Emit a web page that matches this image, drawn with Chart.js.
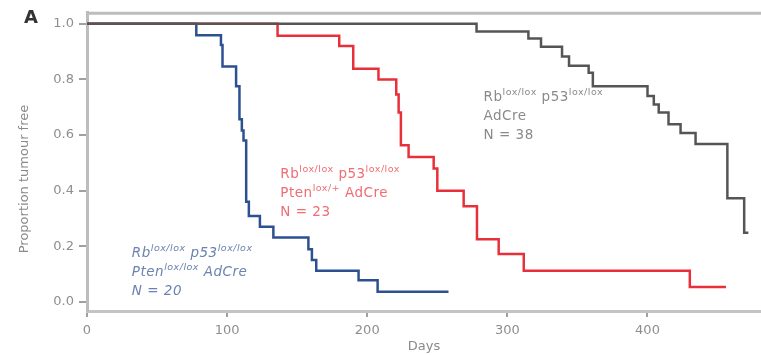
<!DOCTYPE html>
<html><head><meta charset="utf-8">
<script src="https://cdn.jsdelivr.net/npm/chart.js@4.4.1/dist/chart.umd.min.js"></script>
<style>html,body{margin:0;padding:0;background:#fff}#wrap{width:761px;height:355px;position:relative}</style>
</head><body><div id="wrap"><canvas id="c" width="761" height="355"></canvas></div>
<script>
// ---- data ----
const xTicks = [0, 100, 200, 300, 400];
const yTicks = [0.0, 0.2, 0.4, 0.6, 0.8, 1.0];

const grayDays = [0, 278, 315, 324, 339, 344, 358, 361, 400, 404.5, 408, 415, 423.6, 434.3, 457, 469, 472];
const graySurv = [1.0, 0.972, 0.947, 0.917, 0.882, 0.849, 0.824, 0.775, 0.740, 0.710, 0.681, 0.639, 0.607, 0.568, 0.373, 0.249, 0.249];

const redDays = [0, 136, 180, 190, 208, 220.7, 222.4, 224, 229.5, 247.4, 250, 268.8, 278.3, 293.8, 311.7, 430.2, 456];
const redSurv = [1.0, 0.957, 0.920, 0.838, 0.799, 0.746, 0.681, 0.563, 0.521, 0.480, 0.400, 0.344, 0.226, 0.173, 0.113, 0.054, 0.054];

const blueDays = [0, 78, 95.6, 96.7, 106.4, 108.8, 110.5, 111.7, 113.6, 115.5, 123.4, 133, 158, 160.5, 163.6, 193.8, 207.4, 258];
const blueSurv = [1.0, 0.958, 0.923, 0.846, 0.775, 0.657, 0.616, 0.580, 0.360, 0.309, 0.271, 0.232, 0.190, 0.151, 0.113, 0.078, 0.037, 0.037];

const xTitle = 'Days';
const yTitle = 'Proportion tumour free';
const panelLetter = 'A';

// text of the in-plot labels: [text, isSuperscript]
const grayLabel = [[['Rb', 0], ['lox/lox', 1], [' p53', 0], ['lox/lox', 1]], [['AdCre', 0]], [['N = 38', 0]]];
const redLabel  = [[['Rb', 0], ['lox/lox', 1], [' p53', 0], ['lox/lox', 1]], [['Pten', 0], ['lox/+', 1], [' AdCre', 0]], [['N = 23', 0]]];
const blueLabel = [[['Rb', 0], ['lox/lox', 1], [' p53', 0], ['lox/lox', 1]], [['Pten', 0], ['lox/lox', 1], [' AdCre', 0]], [['N = 20', 0]]];

// ---- build ----
const toPts = (d, s) => d.map((x, i) => ({x, y: s[i]}));
const FONT = '"DejaVu Sans", Verdana, sans-serif';

const annotations = [
  {lines: grayLabel, day: 283, surv: 0.734, color: '#8a8a8a', italic: false},
  {lines: redLabel,  day: 138, surv: 0.459, color: '#ef6d73', italic: false},
  {lines: blueLabel, day: 32,  surv: 0.176, color: '#6a83b0', italic: true}
];

const deco = {
  id: 'deco',
  beforeDatasetsDraw(chart) {
    const {ctx, chartArea} = chart;
    ctx.save();
    ctx.strokeStyle = '#bdbdbd';
    ctx.lineWidth = 3;
    ctx.beginPath();
    ctx.moveTo(chartArea.left - 1, chartArea.top + 0.5);
    ctx.lineTo(chartArea.right, chartArea.top + 0.5);
    ctx.stroke();
    ctx.restore();
  },
  afterDraw(chart) {
    const {ctx} = chart;
    const xs = chart.scales.x, ys = chart.scales.y;
    ctx.save();
    try { ctx.letterSpacing = '0.5px'; } catch (e) {}
    for (const a of annotations) {
      const x0 = xs.getPixelForValue(a.day);
      let y = ys.getPixelForValue(a.surv);
      ctx.fillStyle = a.color;
      ctx.textBaseline = 'middle';
      ctx.textAlign = 'left';
      const st = a.italic ? 'italic ' : '';
      for (const line of a.lines) {
        let x = x0;
        for (const [t, sup] of line) {
          ctx.font = st + (sup ? '9.5px ' : '13.5px ') + FONT;
          ctx.fillText(t, x, sup ? y - 5 : y);
          x += ctx.measureText(t).width;
        }
        y += 19;
      }
    }
    // y axis title
    try { ctx.letterSpacing = '0px'; } catch (e) {}
    ctx.fillStyle = '#8a8a8a';
    ctx.font = '13px ' + FONT;
    ctx.textAlign = 'center';
    ctx.textBaseline = 'middle';
    ctx.translate(25, 179);
    ctx.rotate(-Math.PI / 2);
    ctx.fillText(yTitle, 0, 0);
    ctx.setTransform(1, 0, 0, 1, 0, 0);
    // panel letter
    ctx.fillStyle = '#333';
    ctx.font = 'bold 18px ' + FONT;
    ctx.textAlign = 'left';
    ctx.fillText(panelLetter, 24, 18);
    ctx.restore();
  }
};

new Chart(document.getElementById('c'), {
  type: 'line',
  data: {
    datasets: [
      {data: toPts(grayDays, graySurv), borderColor: '#555555'},
      {data: toPts(redDays, redSurv), borderColor: '#e8303a'},
      {data: toPts(blueDays, blueSurv), borderColor: '#2d5190'}
    ].map(d => Object.assign(d, {stepped: true, borderWidth: 2.5, pointRadius: 0, fill: false, tension: 0}))
  },
  options: {
    responsive: false,
    devicePixelRatio: 1,
    animation: false,
    layout: {padding: {left: 0, top: 9, right: 0, bottom: 0}},
    plugins: {legend: {display: false}, tooltip: {enabled: false}},
    scales: {
      x: {
        type: 'linear', min: 0, max: 481,
        afterBuildTicks: s => { s.ticks = xTicks.map(v => ({value: v})); },
        afterFit: s => { s.height = 44; },
        border: {color: '#c4c4c4', width: 3},
        grid: {display: true, drawOnChartArea: false, drawTicks: true, tickLength: 6, color: '#a0a0a0', lineWidth: 2},
        ticks: {color: '#8e8e8e', font: {family: FONT, size: 13}, padding: 6, maxRotation: 0, callback: v => String(v)},
        title: {display: true, text: xTitle, color: '#8a8a8a', font: {family: FONT, size: 13}, padding: {top: 0, bottom: 1}}
      },
      y: {
        type: 'linear', min: -0.032, max: 1.039,
        afterBuildTicks: s => { s.ticks = yTicks.map(v => ({value: v})); },
        afterFit: s => { s.width = 87; },
        border: {color: '#bdbdbd', width: 3},
        grid: {display: true, drawOnChartArea: false, drawTicks: true, tickLength: 8, color: '#a0a0a0', lineWidth: 2},
        ticks: {color: '#8e8e8e', font: {family: FONT, size: 13}, padding: 5, callback: v => v.toFixed(1)}
      }
    }
  },
  plugins: [deco]
});
</script>
</body></html>
